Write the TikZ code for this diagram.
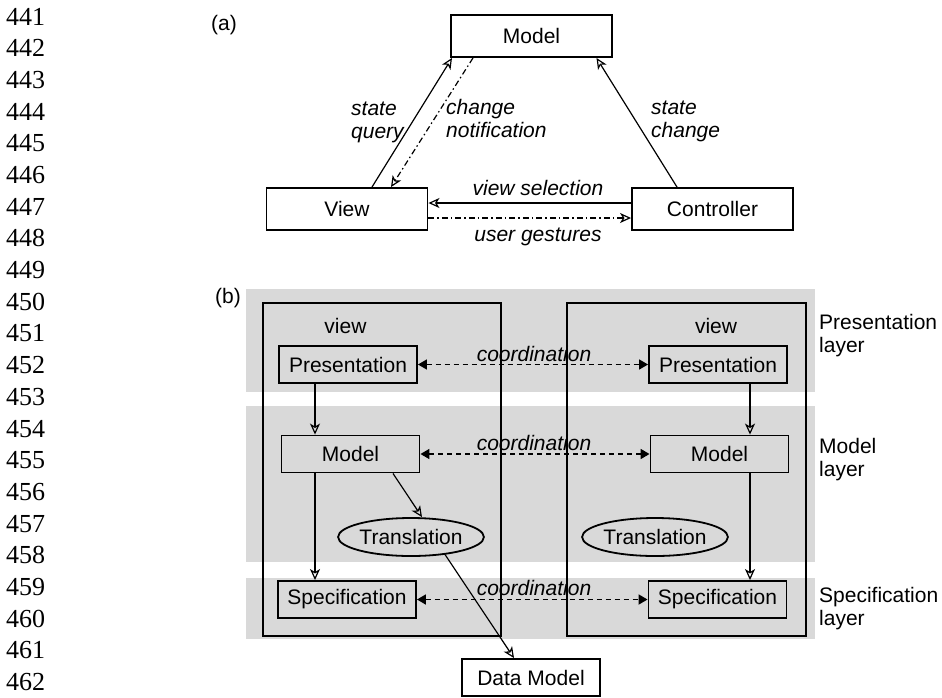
\documentclass[tikz,border=0pt]{standalone}
\usepackage{fontspec}
\setmainfont{Liberation Sans}
\newfontfamily\numfont{Liberation Serif}
\usetikzlibrary{arrows.meta,shapes.geometric,calc}
\definecolor{bandgray}{HTML}{D9D9D9}
\begin{document}
\begin{tikzpicture}[x=1pt,y=-1pt,
  font=\fontsize{21pt}{23pt}\selectfont,
  abox/.style={draw,line width=1.9pt,inner sep=0pt,minimum width=161pt,minimum height=42pt},
  bbox/.style={draw,line width=1.9pt,inner sep=0pt,minimum width=138pt,minimum height=37pt},
  ebox/.style={ellipse,draw,line width=1.8pt,inner sep=0pt,minimum width=139pt,minimum height=38pt},
  container/.style={draw,line width=2pt,inner sep=0pt},
  lbl/.style={font=\fontsize{21pt}{23pt}\selectfont\itshape,align=left,inner sep=0pt},
  rlbl/.style={font=\fontsize{21pt}{22.5pt}\selectfont,align=left,inner sep=0pt},
  numlbl/.style={font=\fontsize{26pt}{28pt}\selectfont\numfont,inner sep=0pt,anchor=west},
  openarrow/.style={line width=1.2pt,-{Stealth[open,length=11pt,width=10pt,inset=3pt,line width=1.2pt]}},
  dashdotline/.style={dash pattern=on 6pt off 3pt on 1.5pt off 3pt},
  coord/.style={line width=1.7pt,dash pattern=on 5pt off 4pt,
    {Triangle[length=9pt,width=10pt]}-{Triangle[length=9pt,width=10pt]}}
]
\useasboundingbox (0,0) rectangle (942,697);

% line numbers
\foreach \i [count=\k from 0] in {441,...,462}{
  \node[numlbl] (n\i) at (6,16.5+31.7*\k) {\i};
}

% ---------- (a) ----------
\node[inner sep=0pt,anchor=west] (la) at (211,25.5) {(a)};
\node[abox] (M) at (531.5,36) {Model};
\node[abox] (V) at (347,209) {View};
\node[abox] (C) at (712.5,209) {Controller};

\draw[openarrow] ([xshift=25pt]V.north) -- ([xshift=-79.5pt]M.south);
\draw[openarrow,dashdotline] ([xshift=-58.5pt]M.south) -- ([xshift=44pt]V.north);
\draw[openarrow] ([xshift=-35.5pt]C.north) -- ([xshift=65pt]M.south);
\draw[openarrow] ([yshift=6pt]C.west) -- ([yshift=6pt]V.east);
\draw[openarrow,dashdotline] ([yshift=-9pt]V.east) -- ([yshift=-9pt]C.west);

\node[lbl,anchor=west] (sq) at (351,122) {state\\query};
\node[lbl,anchor=west] (cn) at (446,118) {change\\notification};
\node[lbl,anchor=west] (sc) at (651,121) {state\\change};
\node[lbl,anchor=base] (vs) at (538,195) {view selection};
\node[lbl,anchor=base] (ug) at (538,241.5) {user gestures};

% ---------- (b) ----------
\node[inner sep=0pt,anchor=west] (lb) at (215,298.5) {(b)};
\fill[bandgray] (246,289) rectangle (815,392);
\fill[bandgray] (246,406) rectangle (815,562);
\fill[bandgray] (246,578) rectangle (815,639);

\node[container,minimum width=238pt,minimum height=333pt] (lv) at (382,469.5) {};
\node[container,minimum width=239pt,minimum height=333pt] (rv) at (686.5,469.5) {};

\node[inner sep=0pt,anchor=base] (lvt) at (345.5,333) {view};
\node[inner sep=0pt,anchor=base] (rvt) at (716,333) {view};

\node[bbox] (lP) at (348,364.5) {Presentation};
\node[bbox] (rP) at (718,364.5) {Presentation};
\node[bbox] (lM) at (350.5,454) {Model};
\node[bbox] (rM) at (719.5,454) {Model};
\node[ebox] (lT) at (411,537) {Translation};
\node[ebox] (rT) at (655,537) {Translation};
\node[bbox] (lS) at (347,599.5) {Specification};
\node[bbox] (rS) at (717.5,599.5) {Specification};
\node[bbox] (DM) at (531,677.5) {Data Model};

\draw[openarrow] ([xshift=-33pt]lP.south) -- ([xshift=-35.5pt]lM.north);
\draw[openarrow] ([xshift=32pt]rP.south) -- ([xshift=30.5pt]rM.north);
\draw[openarrow] ([xshift=-35.5pt]lM.south) -- ([xshift=-32pt]lS.north);
\draw[openarrow] ([xshift=30.5pt]rM.south) -- ([xshift=32.5pt]rS.north);
\draw[openarrow] ([xshift=42.5pt]lM.south) -- ([xshift=11pt]lT.north);
\draw[openarrow] ([xshift=34pt,yshift=2.4pt]lT.south) -- ([xshift=-17pt]DM.north);

\draw[coord] (lP.east) -- (rP.west);
\draw[coord] (lM.east) -- (rM.west);
\draw[coord] (lS.east) -- (rS.west);
\node[lbl,anchor=base] (c1) at (534,361) {coordination};
\node[lbl,anchor=base] (c2) at (534,450) {coordination};
\node[lbl,anchor=base] (c3) at (534,595) {coordination};

\node[rlbl,anchor=west] (pl) at (819,335.5) {Presentation\\layer};
\node[rlbl,anchor=west] (ml) at (819,459.5) {Model\\layer};
\node[rlbl,anchor=west] (spl) at (819,608.5) {Specification\\layer};
\end{tikzpicture}
\end{document}
